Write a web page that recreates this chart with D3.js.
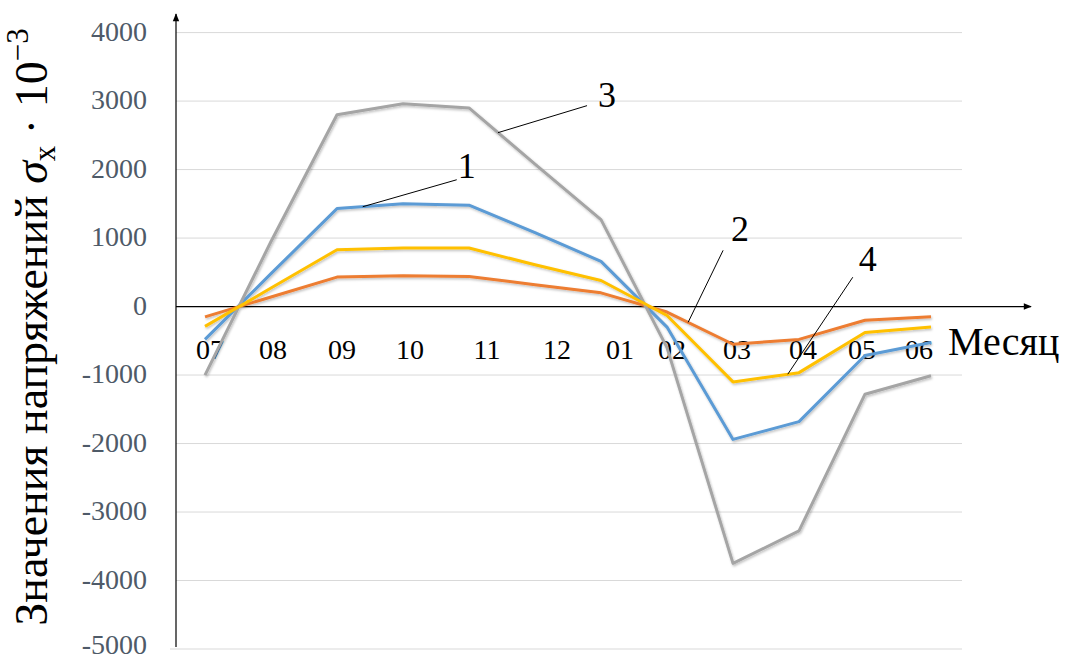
<!DOCTYPE html>
<html>
<head>
<meta charset="utf-8">
<script src="https://cdn.jsdelivr.net/npm/d3@7"></script>
<style>
  html, body { margin: 0; padding: 0; background: #fff; }
  svg { display: block; }
</style>
</head>
<body>
<svg id="chart" width="1067" height="661"></svg>
<script>
// months on the x axis
const months = ["07", "08", "09", "10", "11", "12", "01", "02", "03", "04", "05", "06"];
// stress values, one array per curve
const curve1 = [-480, 480, 1430, 1500, 1480, 1080, 660, -300, -1940, -1680, -715, -525];
const curve2 = [-150, 140, 430, 450, 440, 320, 200, -80, -550, -480, -200, -150];
const curve3 = [-1000, 950, 2800, 2960, 2900, 2080, 1270, -600, -3750, -3275, -1280, -1010];
const curve4 = [-290, 270, 830, 855, 855, 610, 380, -130, -1100, -965, -380, -300];
const yTicks = [-5000, -4000, -3000, -2000, -1000, 0, 1000, 2000, 3000, 4000];
const curveNames = ["1", "2", "3", "4"];

// hand-placed month labels sit a little off the points
const labelNudge = [5, 2, 5, 7, 18, 22, 19, 5, 4, 4, -3, -12];

const colors = {"1": "#5B9BD5", "2": "#ED7D31", "3": "#A5A5A5", "4": "#FFC000"};
const series = [
    {name: "1", values: curve1},
    {name: "2", values: curve2},
    {name: "3", values: curve3},
    {name: "4", values: curve4}
];

// callouts: which curve, where along it (fractional month index), leader direction
const callouts = [
    {name: "1", at: 2.39, dx: 94, dy: -27, tx: 10, ty: -14},
    {name: "3", at: 4.44, dx: 89, dy: -27, tx: 20, ty: -11},
    {name: "2", at: 7.32, dx: 35, dy: -72, tx: 17, ty: -22},
    {name: "4", at: 8.83, dx: 65, dy: -97, tx: 15, ty: -19}
];

const svg = d3.select("#chart");
const serif = "'Liberation Serif', 'Times New Roman', serif";
const axisX = 176;

let x = d3.scalePoint().domain(months).range([205, 931]);
let y = d3.scaleLinear().domain([-5000, 4000]).range([649, 32.6]);

let defs = svg.append("defs");
let shadow = defs.append("filter").attr("id", "shadow")
    .attr("x", "-5%").attr("y", "-5%").attr("width", "110%").attr("height", "110%");
shadow.append("feDropShadow").attr("dx", 1).attr("dy", 1.5)
    .attr("stdDeviation", 1.2).attr("flood-color", "#000").attr("flood-opacity", 0.25);
defs.append("marker").attr("id", "arrow")
    .attr("viewBox", "0 0 10 10").attr("refX", 9).attr("refY", 5)
    .attr("markerWidth", 10).attr("markerHeight", 8).attr("markerUnits", "userSpaceOnUse")
    .attr("orient", "auto")
    .append("path").attr("d", "M0,1 L10,5 L0,9 Z").attr("fill", "#000");

// gridlines
svg.append("g").selectAll("line").data(yTicks).join("line")
    .attr("x1", d => d === -5000 ? 170 : axisX)
    .attr("x2", 962)
    .attr("y1", d => y(d)).attr("y2", d => y(d))
    .attr("stroke", "#d9d9d9").attr("stroke-width", 1);

// y tick labels
svg.append("g").selectAll("text").data(yTicks).join("text")
    .attr("x", 147)
    .attr("y", d => Math.min(y(d), 646))
    .attr("dy", "0.3em")
    .attr("text-anchor", "end")
    .attr("font-family", serif)
    .attr("font-size", 28)
    .attr("fill", "#4e5a68")
    .text(d => d);

// axes with arrows
svg.append("line")
    .attr("x1", axisX).attr("x2", axisX)
    .attr("y1", y(-5000) - 2).attr("y2", 14)
    .attr("stroke", "#000").attr("stroke-width", 1.2)
    .attr("marker-end", "url(#arrow)");
svg.append("line")
    .attr("x1", axisX).attr("x2", 1031)
    .attr("y1", y(0)).attr("y2", y(0))
    .attr("stroke", "#000").attr("stroke-width", 1.2)
    .attr("marker-end", "url(#arrow)");

// month labels
svg.append("g").selectAll("text").data(months).join("text")
    .attr("x", (d, i) => x(d) + labelNudge[i])
    .attr("y", 359)
    .attr("text-anchor", "middle")
    .attr("font-family", serif)
    .attr("font-size", 28)
    .attr("fill", "#000")
    .text(d => d);

svg.append("text")
    .attr("x", 948).attr("y", 355)
    .attr("font-family", serif)
    .attr("font-size", 40)
    .attr("fill", "#000")
    .text("Месяц");

// curves
let line = d3.line()
    .x((d, i) => x(months[i]))
    .y(d => y(d));

svg.append("g").attr("filter", "url(#shadow)")
    .selectAll("path").data(series).join("path")
    .attr("d", d => line(d.values))
    .attr("fill", "none")
    .attr("stroke", d => colors[d.name])
    .attr("stroke-width", 3)
    .attr("stroke-linejoin", "round");

// callout leaders and numbers
function pointAt(values, t) {
    let i = Math.min(Math.floor(t), values.length - 2);
    let f = t - i;
    let v = values[i] + (values[i + 1] - values[i]) * f;
    let px = x(months[i]) + (x(months[i + 1]) - x(months[i])) * f;
    return [px, y(v)];
}

let cg = svg.append("g");
callouts.forEach(function (c) {
    let s = series.find(d => d.name === c.name);
    let p = pointAt(s.values, c.at);
    cg.append("line")
        .attr("x1", p[0]).attr("y1", p[1])
        .attr("x2", p[0] + c.dx).attr("y2", p[1] + c.dy)
        .attr("stroke", "#000").attr("stroke-width", 1);
    cg.append("text")
        .attr("x", p[0] + c.dx + c.tx)
        .attr("y", p[1] + c.dy + c.ty)
        .attr("dy", "0.35em")
        .attr("text-anchor", "middle")
        .attr("font-family", serif)
        .attr("font-size", 36)
        .attr("fill", "#000")
        .text(curveNames[curveNames.indexOf(c.name)]);
});

// y axis title
let title = svg.append("text")
    .attr("transform", "translate(47,327) rotate(-90)")
    .attr("text-anchor", "middle")
    .attr("font-family", serif)
    .attr("font-size", 46)
    .attr("fill", "#000");
title.append("tspan").text("Значения напряжений ");
title.append("tspan").attr("font-style", "italic").text("σ");
title.append("tspan").attr("font-size", 31).attr("dy", 8).text("x");
title.append("tspan").attr("dy", -8).text(" · 10");
title.append("tspan").attr("font-size", 31).attr("dy", -19).text("−3");
</script>
</body>
</html>
